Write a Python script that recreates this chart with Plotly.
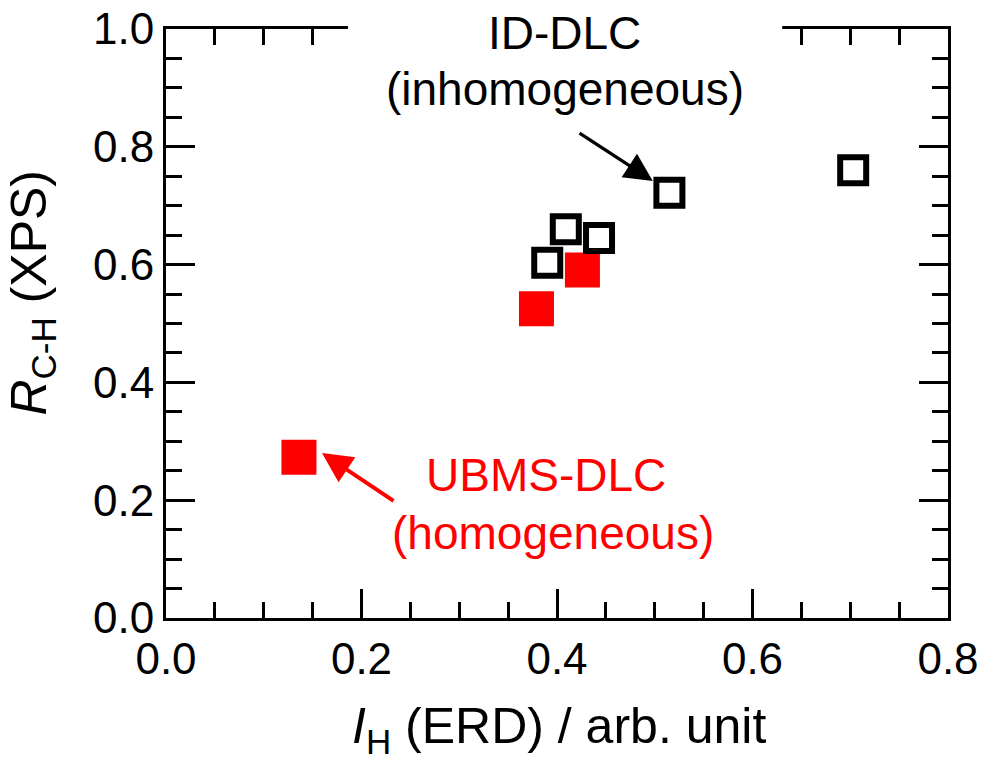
import plotly.graph_objects as go

# Hydrogen content from ERD vs. C-H bond fraction from XPS
id_dlc_x = [0.390, 0.409, 0.443, 0.515, 0.703]
id_dlc_y = [0.603, 0.660, 0.645, 0.722, 0.760]

ubms_dlc_x = [0.136, 0.379, 0.426]
ubms_dlc_y = [0.273, 0.525, 0.591]

x_ticks = [0.0, 0.2, 0.4, 0.6, 0.8]
y_ticks = [0.0, 0.2, 0.4, 0.6, 0.8, 1.0]

FONT = "Liberation Sans, Arial, sans-serif"
RED = "#ff0000"

fig = go.Figure()

fig.add_trace(go.Scatter(
    x=ubms_dlc_x, y=ubms_dlc_y, mode="markers", name="UBMS-DLC",
    marker=dict(symbol="square", size=35, color=RED, line=dict(width=0)),
))
fig.add_trace(go.Scatter(
    x=id_dlc_x, y=id_dlc_y, mode="markers", name="ID-DLC",
    marker=dict(symbol="square-open", size=26, color="black",
                line=dict(width=6, color="black")),
))

axis_common = dict(
    showline=True, linecolor="black", linewidth=3, mirror="ticks",
    ticks="inside", ticklen=29, tickwidth=3, tickcolor="black",
    showgrid=False, zeroline=False, automargin=False,
    tickfont=dict(family=FONT, size=44, color="black"),
    tickformat=".1f",
    minor=dict(ticks="inside", ticklen=16, tickwidth=3, tickcolor="black",
               dtick=0.05, showgrid=False),
)

fig.update_xaxes(range=[0, 0.8], tickvals=x_ticks, **axis_common)
fig.update_yaxes(range=[0, 1.0], tickvals=y_ticks, **axis_common)

# white backing behind the ID-DLC label, breaking the top frame
fig.add_shape(type="rect", xref="paper", yref="paper",
              x0=0.2327, x1=0.788, y0=0.84, y1=1.06,
              fillcolor="white", line=dict(width=0), layer="above")

annotations = [
    # axis titles
    dict(text="<i>I</i><sub>H</sub> (ERD) / arb. unit", xref="paper", yref="paper",
         x=0.502, y=-0.19, xanchor="center", yanchor="middle", showarrow=False,
         font=dict(family=FONT, size=50, color="black")),
    dict(text="<i>R</i><sub>C-H</sub> (XPS)", xref="paper", yref="paper",
         x=-0.171, y=0.553, xanchor="center", yanchor="middle", showarrow=False,
         textangle=-90, font=dict(family=FONT, size=50, color="black")),
    # group labels
    dict(text="ID-DLC", x=0.408, y=0.994, showarrow=False,
         xanchor="center", yanchor="middle",
         font=dict(family=FONT, size=46, color="black")),
    dict(text="(inhomogeneous)", x=0.408, y=0.898, showarrow=False,
         xanchor="center", yanchor="middle",
         font=dict(family=FONT, size=46, color="black")),
    dict(text="UBMS-DLC", x=0.389, y=0.243, showarrow=False,
         xanchor="center", yanchor="middle",
         font=dict(family=FONT, size=46, color=RED)),
    dict(text="(homogeneous)", x=0.396, y=0.145, showarrow=False,
         xanchor="center", yanchor="middle",
         font=dict(family=FONT, size=46, color=RED)),
    # pointer arrows
    dict(text="", x=0.498, y=0.742, ax=0.4215, ay=0.825, axref="x", ayref="y",
         showarrow=True, arrowhead=2, arrowsize=1.7, arrowwidth=3.3,
         arrowcolor="black", standoff=0),
    dict(text="", x=0.1596, y=0.2802, ax=0.2343, ay=0.197, axref="x", ayref="y",
         showarrow=True, arrowhead=2, arrowsize=1.5, arrowwidth=4,
         arrowcolor=RED, standoff=0),
]

fig.update_layout(
    width=984, height=760,
    margin=dict(l=166, r=36, t=29, b=142),
    paper_bgcolor="white", plot_bgcolor="white",
    showlegend=False,
    annotations=annotations,
    font=dict(family=FONT, color="black"),
)

fig.write_html("out.html")
